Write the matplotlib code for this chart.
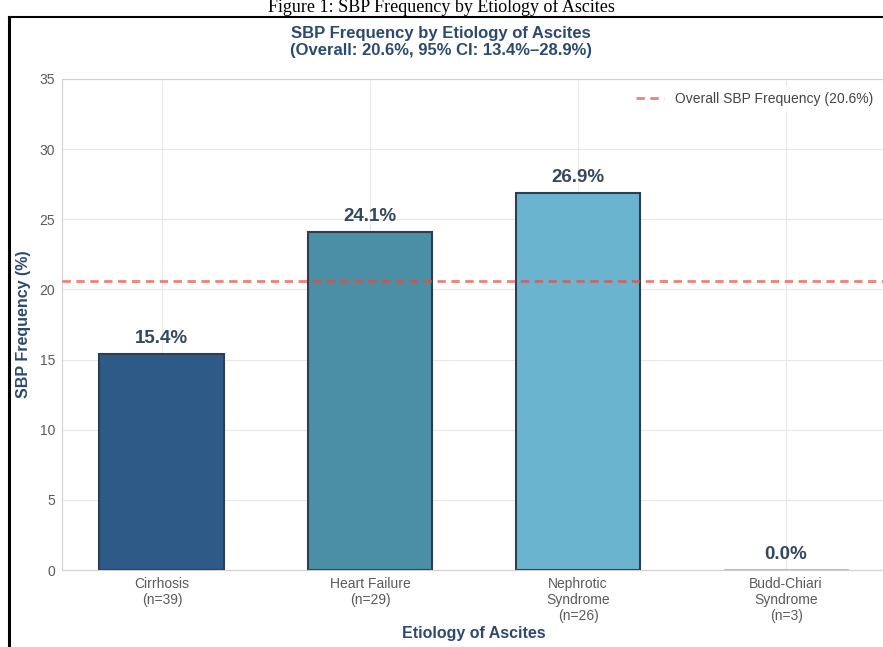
import matplotlib
matplotlib.use("Agg")
import matplotlib.pyplot as plt
from matplotlib.lines import Line2D

# data
etiologies = ["Cirrhosis\n(n=39)", "Heart Failure\n(n=29)",
              "Nephrotic\nSyndrome\n(n=26)", "Budd-Chiari\nSyndrome\n(n=3)"]
sbp_freq = [15.4, 24.1, 26.9, 0.0]
overall = 20.6
ci_low, ci_high = 13.4, 28.9
bar_colors = ["#2e5a88", "#4a8fa6", "#6bb4cf", "#b8bec2"]
edge_colors = ["#2c3e50", "#2c3e50", "#2c3e50", "#b8bec2"]

plt.rcParams["font.family"] = ["Liberation Sans", "DejaVu Sans"]

W, H = 883, 647
fig = plt.figure(figsize=(W / 100, H / 100), dpi=100)
ax = fig.add_axes([62 / W, 1 - 570 / H, 824 / W, 491 / H])

x = list(range(len(etiologies)))
ax.bar(x, sbp_freq, width=0.6, color=bar_colors, edgecolor=edge_colors,
       linewidth=1.5, zorder=2)

ax.axhline(overall, color="#e74c3c", linestyle="--", dashes=(3, 2),
           linewidth=2, alpha=0.7, zorder=3,
           label=f"Overall SBP Frequency ({overall}%)")

for xi, v in zip(x, sbp_freq):
    ax.text(xi, v + 0.5, f"{v:.1f}%", ha="center", va="bottom",
            fontsize=13.5, fontweight="bold", color="#34495e")

ax.set_ylim(0, 35)
ax.set_xticks(x)
ax.set_xticklabels(etiologies, fontsize=10, color="#5a5a5a")
ax.tick_params(axis="y", labelsize=10, labelcolor="#5a5a5a")
ax.tick_params(length=0, pad=5)
ax.grid(True, color="#e8e8e8", linewidth=0.8, zorder=0)
ax.set_axisbelow(True)
for s in ax.spines.values():
    s.set_color("#d0d0d0")
    s.set_linewidth(0.8)

ax.set_xlabel("Etiology of Ascites", fontsize=11.5, fontweight="bold",
              color="#2c4a6e", labelpad=2)
ax.set_ylabel("SBP Frequency (%)", fontsize=11.5, fontweight="bold",
              color="#2c4a6e", labelpad=6)

leg = ax.legend(loc="upper right", fontsize=10, frameon=True)
leg.get_frame().set_edgecolor("white")
for t in leg.get_texts():
    t.set_color("#444444")

fig.text(441 / W, 1 - 42 / H,
         f"SBP Frequency by Etiology of Ascites\n(Overall: {overall}%, 95% CI: {ci_low}%–{ci_high}%)",
         ha="center", va="center", fontsize=12, fontweight="bold",
         color="#2c4a6e", linespacing=1.15)

# document caption and frame
fig.text(441 / W, 1 - 12 / H, "Figure 1: SBP Frequency by Etiology of Ascites",
         ha="center", va="baseline", fontsize=13, family="Liberation Serif",
         color="black")
fig.add_artist(Line2D([9 / W, 9 / W], [0, 1 - 17 / H], color="black",
                      linewidth=2.2))
fig.add_artist(Line2D([9 / W, 1], [1 - 17 / H, 1 - 17 / H], color="black",
                      linewidth=1.5))

fig.savefig("out.png", dpi=100)
